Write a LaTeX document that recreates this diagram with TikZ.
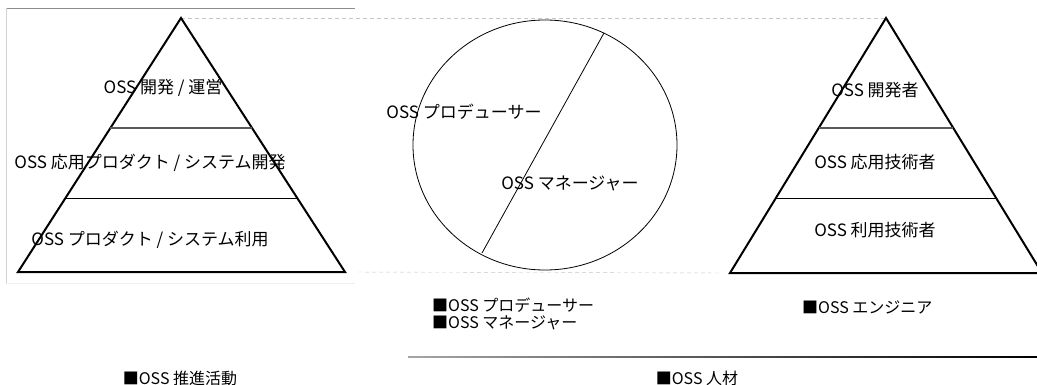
\documentclass[tikz,border=0pt]{standalone}
\usepackage{fontspec}
\setmainfont{Noto Sans CJK JP}
\usetikzlibrary{positioning}
\usetikzlibrary{calc}

\begin{document}
\begin{tikzpicture}[x=1pt, y=-1pt,
			font=\fontsize{17}{20}\selectfont,
			pyramid/.style={draw, line width=2pt, line join=miter},
			tier/.style={inner sep=0pt},
			caption/.style={inner sep=0pt, font=\fontsize{16}{19}\selectfont},
			guide/.style={draw, gray!45, dashed, dash pattern=on 4pt off 3pt}]
			\useasboundingbox (0,0) rectangle (1037,385);
			\path[draw, gray!90] (6,8) -- (355,8);
			\path[draw, gray!35] (6,8) -- (6,283);
			\path[draw, gray!12] (6,283) -- (355,283);
			\coordinate (lapex) at (181,18);
			\coordinate (lleft) at (18,272);
			\coordinate (lright) at (345,272);
			\coordinate (rapex) at (886,18);
			\coordinate (rleft) at (730,273);
			\coordinate (rright) at (1042,273);
			\path[guide] (lapex) -- (rapex);
			\path[guide, shorten <=13pt, shorten >=10pt] (lright) -- (rleft);
			\path[pyramid] (lapex) -- (lleft) -- (lright) -- cycle;
			\path[draw, gray!70!black, line width=1.3pt] ($(lapex)!0.433!(lleft)$) -- ($(lapex)!0.433!(lright)$);
			\path[draw] ($(lapex)!0.709!(lleft)$) -- ($(lapex)!0.709!(lright)$);
			\node[tier] (dev) at (163,88) {OSS 開発 / 運営};
			\node[tier] (app) at (150,163) {OSS 応用プロダクト / システム開発};
			\node[tier] (use) at (150,240) {OSS プロダクト / システム利用};
			\path[draw, line width=0.8pt] (545,145) ellipse [x radius=132, y radius=125];
			\path[draw, line width=0.8pt] (604,33) -- (482,253);
			\node[tier] (producer) at (464,112) {OSS プロデューサー};
			\node[tier] (manager) at (570,183) {OSS マネージャー};
			\path[pyramid] (rapex) -- (rleft) -- (rright) -- cycle;
			\path[draw, gray!70!black, line width=1.3pt] ($(rapex)!0.431!(rleft)$) -- ($(rapex)!0.431!(rright)$);
			\path[draw] ($(rapex)!0.706!(rleft)$) -- ($(rapex)!0.706!(rright)$);
			\node[tier] (engdev) at (875,90) {OSS 開発者};
			\node[tier] (engapp) at (875,162) {OSS 応用技術者};
			\node[tier] (enguse) at (875,230) {OSS 利用技術者};
			\node[caption, anchor=west] (capprod) at (432,305) {■OSS プロデューサー};
			\node[caption, anchor=west] (capman) at (432,323) {■OSS マネージャー};
			\node[caption, anchor=west] (capeng) at (802,307) {■OSS エンジニア};
			\shade[left color=gray!70, right color=black] (408,356.4) rectangle (1037,357.8);
			\node[caption] (activity) at (180,378) {■OSS 推進活動};
			\node[caption] (talent) at (697,378) {■OSS 人材};
\end{tikzpicture}
\end{document}
